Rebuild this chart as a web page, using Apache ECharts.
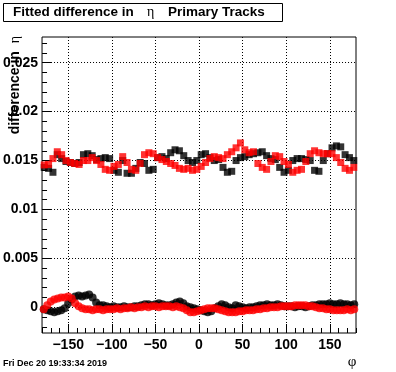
<!DOCTYPE html>
<html><head><meta charset="utf-8">
<script src="https://cdn.jsdelivr.net/npm/echarts@6/dist/echarts.min.js"></script>
<style>html,body{margin:0;padding:0;background:#fff}#c{width:396px;height:372px}</style>
</head><body><div id="c"></div><script>
// ---- data ----
const upperPhi = [-177.5,-172.5,-167.5,-162.5,-157.5,-152.5,-147.5,-142.5,-137.5,-132.5,
-127.5,-122.5,-117.5,-112.5,-107.5,-102.5,-97.5,-92.5,-87.5,-82.5,
-77.5,-72.5,-67.5,-62.5,-57.5,-52.5,-47.5,-42.5,-37.5,-32.5,
-27.5,-22.5,-17.5,-12.5,-7.5,-2.5,2.5,7.5,12.5,17.5,
22.5,27.5,32.5,37.5,42.5,47.5,52.5,57.5,62.5,67.5,
72.5,77.5,82.5,87.5,92.5,97.5,102.5,107.5,112.5,117.5,
122.5,127.5,132.5,137.5,142.5,147.5,152.5,157.5,162.5,167.5,
172.5,177.5];
const upperBlack = [0.0143,0.0142,0.0138,0.0156,0.0152,0.0149,0.0148,0.0147,0.0148,0.0156,
0.0157,0.0155,0.0151,0.0152,0.0153,0.0152,0.0140,0.0138,0.0150,0.0137,
0.0137,0.0142,0.0148,0.0147,0.0140,0.0141,0.0153,0.0154,0.0152,0.0158,
0.0161,0.0160,0.0155,0.0150,0.0148,0.0150,0.0156,0.0157,0.0153,0.0150,
0.0151,0.0143,0.0138,0.0139,0.0150,0.0153,0.0154,0.0156,0.0157,0.0158,
0.0159,0.0155,0.0152,0.0151,0.0143,0.0138,0.0140,0.0150,0.0152,0.0152,
0.0151,0.0150,0.0140,0.0139,0.0150,0.0157,0.0163,0.0165,0.0164,0.0156,
0.0153,0.0150];
const upperRed = [0.01455,0.0146,0.0152,0.0159,0.0156,0.0150,0.0148,0.0147,0.0146,0.0150,
0.0150,0.0153,0.0150,0.0146,0.0141,0.0140,0.0144,0.0146,0.0154,0.0148,
0.0141,0.0140,0.0147,0.0156,0.0158,0.0157,0.0153,0.0151,0.0149,0.0147,
0.0145,0.0142,0.0141,0.0142,0.0140,0.0141,0.0144,0.0148,0.0152,0.0154,
0.0153,0.0152,0.0156,0.0159,0.0163,0.0168,0.0161,0.0158,0.0159,0.0147,
0.0143,0.0141,0.0149,0.0155,0.0154,0.0149,0.0146,0.0138,0.0140,0.0141,
0.0149,0.0157,0.0160,0.0158,0.0157,0.0157,0.0157,0.0153,0.0148,0.0142,
0.0140,0.0143];
const lowerPhi = [-178,-174,-170,-166,-162,-158,-154,-150,-146,-142,
-138,-134,-130,-126,-122,-118,-114,-110,-106,-102,
-98,-94,-90,-86,-82,-78,-74,-70,-66,-62,
-58,-54,-50,-46,-42,-38,-34,-30,-26,-22,
-18,-14,-10,-6,-2,2,6,10,14,18,
22,26,30,34,38,42,46,50,54,58,
62,66,70,74,78,82,86,90,94,98,
102,106,110,114,118,122,126,130,134,138,
142,146,150,154,158,162,166,170,174,178];
const lowerBlack = [-0.0002,-0.0003,-0.0004,
-0.0005,-0.0004,-0.0003,-0.0001,
0.0004,0.0008,0.0011,0.0012,0.0011,0.0012,0.0013,0.0010,
0.0005,0.0002,0.0002,0.0001,
0.0000,0.0001,0.0000,0.0000,0.0001,0.0000,0.0000,0.0001,0.0001,0.0002,
0.0003,0.0003,0.0002,0.0003,0.0004,0.0003,0.0002,0.0002,0.0003,0.0005,0.0006,0.0004,
0.0001,0.0000,-0.0001,-0.0002,-0.0003,-0.0004,-0.0005,-0.0004,
-0.0001,0.0001,0.0003,0.0002,0.0000,-0.0001,
0.0002,0.0001,0.0000,-0.0001,0.0000,0.0000,0.0001,
0.0002,0.0002,0.0003,0.0002,0.0002,0.0003,0.0002,0.0001,0.0001,
0.0001,0.0000,0.0001,0.0001,0.0000,0.0001,0.0002,0.0002,0.0003,0.0003,
0.0003,0.0004,0.0003,0.0003,0.0004,0.0003,0.0003,0.0002,0.0003];
const lowerRed = [-0.0002,0.0002,0.0006,0.0008,0.0009,0.0010,0.0010,0.0011,0.0009,0.0004,0.0001,-0.0001,
-0.0002,-0.0002,-0.0003,-0.0002,-0.0002,-0.0003,-0.0002,-0.0002,
-0.0002,-0.0001,-0.0002,-0.0001,-0.0001,0.0000,-0.0001,0.0000,0.0000,0.0001,0.0000,
0.0001,0.0001,0.0000,0.0001,0.0001,0.0001,0.0000,0.0001,0.0000,-0.0001,
-0.0003,-0.0005,-0.0005,-0.0004,
-0.0003,-0.0002,-0.0001,-0.0001,-0.0001,-0.0002,-0.0003,
-0.0004,-0.0005,-0.0005,-0.0005,-0.0004,-0.0004,-0.0003,-0.0003,-0.0003,-0.0002,
-0.0002,-0.0001,-0.0001,0.0000,0.0000,0.0000,0.0001,0.0001,0.0001,
0.0001,0.0002,0.0002,0.0002,0.0002,0.0001,0.0001,0.0000,-0.0001,-0.0001,
-0.0002,-0.0002,-0.0003,-0.0003,-0.0003,-0.0003,-0.0002,-0.0003,-0.0002];
const xMajorTicks = [-150,-100,-50,0,50,100,150];
const xMinorTicks = [-180,-170,-160,-150,-140,-130,-120,-110,-100,-90,-80,-70,-60,-50,-40,-30,-20,-10,0,
10,20,30,40,50,60,70,80,90,100,110,120,130,140,150,160,170,180];
const yMajorTicks = [0,0.005,0.01,0.015,0.02,0.025];
const yTickLabels = ['0','0.005','0.01','0.015','0.02','0.025'];
const yMinorTicks = [-0.002,-0.001,0,0.001,0.002,0.003,0.004,0.005,0.006,0.007,0.008,0.009,0.01,
0.011,0.012,0.013,0.014,0.015,0.016,0.017,0.018,0.019,0.02,0.021,0.022,0.023,0.024,0.025,0.026,0.027];
const titleText = 'Fitted difference in';
const titleEta = 'η';
const titleTail = 'Primary Tracks';
const yTitle = 'difference in ';
const xTitle = 'φ';
const dateText = 'Fri Dec 20 19:33:34 2019';

// ---- chart ----
const SANS = '"Liberation Sans", Arial, Helvetica, sans-serif';
const SERIF = '"Liberation Serif", "DejaVu Serif", serif';
function zip(a, b) { return a.map((v, i) => [v, b[i]]); }
const X0 = -180, X1 = 180, Y0 = -0.00263, Y1 = 0.02763;

const chart = echarts.init(document.getElementById('c'), null, {renderer: 'canvas'});
const tickLine = {color: '#000', width: 1};
chart.setOption({
  animation: false,
  backgroundColor: '#fff',
  grid: {left: 40, top: 37, width: 316, height: 296, show: true, borderColor: '#000', borderWidth: 1, backgroundColor: 'transparent'},
  xAxis: [
    {type: 'value', min: X0, max: X1, position: 'bottom',
     axisLine: {show: false, onZero: false},
     axisTick: {show: true, inside: true, length: 9, customValues: xMajorTicks, lineStyle: tickLine},
     axisLabel: {show: true, customValues: xMajorTicks, margin: 5, color: '#000', fontFamily: SANS, fontWeight: 'bold', fontSize: 14,
       formatter: v => String(v).replace('-', '\u2212')},
     splitLine: {show: true, lineStyle: {color: '#000', width: 1, type: [1, 2]}}},
    {type: 'value', min: X0, max: X1, position: 'bottom',
     axisLine: {show: false, onZero: false},
     axisTick: {show: true, inside: true, length: 5, customValues: xMinorTicks, lineStyle: tickLine},
     axisLabel: {show: false}, splitLine: {show: false}}
  ],
  yAxis: [
    {type: 'value', min: Y0, max: Y1, position: 'left',
     axisLine: {show: false, onZero: false},
     axisTick: {show: true, inside: true, length: 9, customValues: yMajorTicks, lineStyle: tickLine},
     axisLabel: {show: true, customValues: yMajorTicks, margin: 4, color: '#000', fontFamily: SANS, fontWeight: 'bold', fontSize: 14,
       formatter: v => { const i = yMajorTicks.findIndex(t => Math.abs(t - v) < 1e-9); return i >= 0 ? yTickLabels[i] : ''; }},
     splitLine: {show: true, lineStyle: {color: '#000', width: 1, type: [1, 2]}}},
    {type: 'value', min: Y0, max: Y1, position: 'left',
     axisLine: {show: false, onZero: false},
     axisTick: {show: true, inside: true, length: 5, customValues: yMinorTicks, lineStyle: tickLine},
     axisLabel: {show: false}, splitLine: {show: false}}
  ],
  series: [
    {type: 'scatter', name: 'lowerBlack', data: zip(lowerPhi, lowerBlack), symbol: 'circle', symbolSize: 8, itemStyle: {color: '#000'}, silent: true},
    {type: 'scatter', name: 'upperBlack', data: zip(upperPhi, upperBlack), symbol: 'rect', symbolSize: 7, itemStyle: {color: '#000'}, silent: true},
    {type: 'scatter', name: 'upperRed', data: zip(upperPhi, upperRed), symbol: 'rect', symbolSize: 7, itemStyle: {color: '#ff0000'}, silent: true},
    {type: 'scatter', name: 'lowerRed', data: zip(lowerPhi, lowerRed), symbol: 'circle', symbolSize: 8, itemStyle: {color: '#ff0000'}, silent: true}
  ],
  graphic: [
    {type: 'rect', shape: {x: 3.5, y: 3.5, width: 279, height: 18}, style: {fill: '#fff', stroke: '#000', lineWidth: 1}, z: 10},
    {type: 'text', x: 13, y: 12, z: 11, style: {text: titleText, font: 'bold 13.5px ' + SANS, fill: '#000', textAlign: 'left', textVerticalAlign: 'middle'}},
    {type: 'text', x: 147, y: 12, z: 11, style: {text: titleEta, font: '14px ' + SERIF, fill: '#000', textAlign: 'left', textVerticalAlign: 'middle'}},
    {type: 'text', x: 168, y: 12, z: 11, style: {text: titleTail, font: 'bold 13.5px ' + SANS, fill: '#000', textAlign: 'left', textVerticalAlign: 'middle'}},
    {type: 'text', x: 15, y: 36, rotation: Math.PI / 2, z: 11,
     style: {text: '{a|' + yTitle + ' }{b|' + titleEta + '}', textAlign: 'right', textVerticalAlign: 'middle',
       rich: {a: {font: 'bold 14px ' + SANS, fill: '#000'}, b: {font: '14px ' + SERIF, fill: '#000'}}}},
    {type: 'text', x: 352, y: 362, z: 11, style: {text: xTitle, font: '15px ' + SERIF, fill: '#000', textAlign: 'center', textVerticalAlign: 'middle'}},
    {type: 'text', x: 3, y: 364, z: 11, style: {text: dateText, font: 'bold 9px ' + SANS, fill: '#000', textAlign: 'left', textVerticalAlign: 'middle'}}
  ]
});
</script></body></html>
